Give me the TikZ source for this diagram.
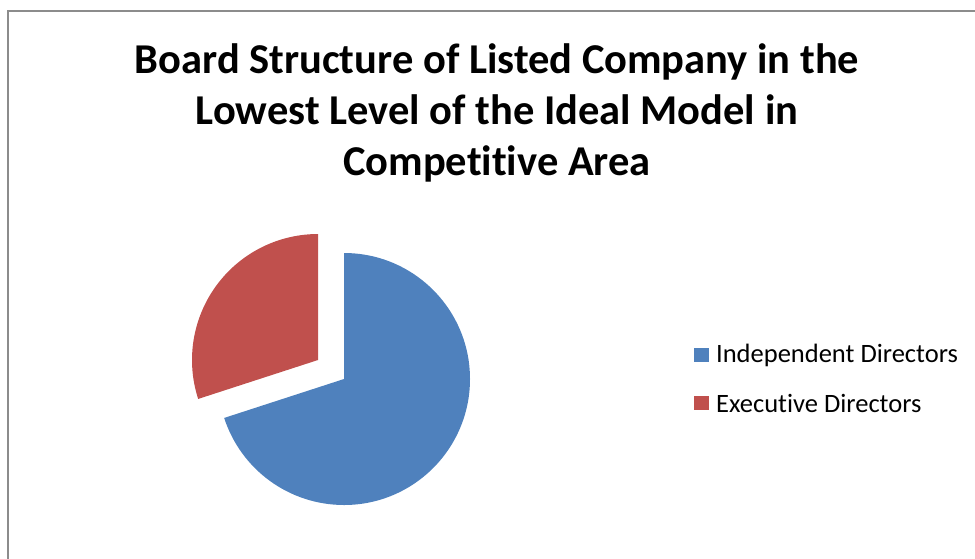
\documentclass[tikz,border=0pt]{standalone}
\usepackage{fontspec}
\setmainfont[Ligatures=NoCommon]{Carlito}
\usepackage{tikz}
\usetikzlibrary{positioning}
\usetikzlibrary{calc}
\definecolor{indblue}{HTML}{4F81BD}
\definecolor{exered}{HTML}{C0504D}
\definecolor{framegray}{HTML}{8C8C8C}

\begin{document}
\begin{tikzpicture}[
        x=1pt, y=-1pt,
        every node/.style={inner sep=0pt},
        key/.style={rectangle, minimum size=14.5pt},
        keytext/.style={font=\fontsize{26.5}{30}\selectfont, anchor=west}
        ]
        \useasboundingbox (0,0) rectangle (975,558);
        \clip (0,0) rectangle (975,558);
        \draw[framegray, line width=2pt] (8,11) rectangle (1000,600);

        \node[align=center, font=\fontsize{42.5}{51}\selectfont\bfseries] (title) at (497,113)
            {Board Structure of Listed Company in the\\Lowest Level of the Ideal Model in\\Competitive Area};

        % pie, 70 / 30
        \coordinate (c) at (344,379);
        \fill[indblue] (c) -- ++(0,-126) arc[start angle=-90, end angle=162, radius=126] -- cycle;
        \coordinate (c2) at ($(c)+(-26,-19)$);
        \fill[exered] (c2) -- ++(0,-126) arc[start angle=-90, end angle=-198, radius=126] -- cycle;

        \node[key, fill=indblue] (k1) at (701.5,355) {};
        \node[keytext, right=7pt of k1] (t1) {Independent Directors};
        \node[key, fill=exered] (k2) at (701.5,403) {};
        \node[keytext, right=7pt of k2] (t2) {Executive Directors};
\end{tikzpicture}
\end{document}
